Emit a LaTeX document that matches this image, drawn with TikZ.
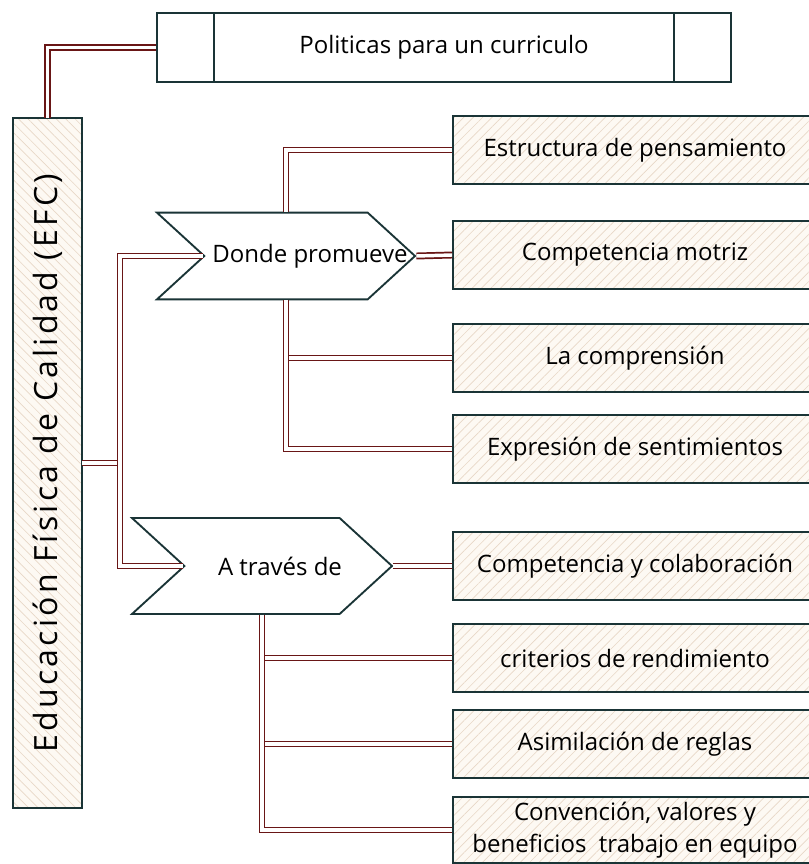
\documentclass[tikz,border=0pt]{standalone}
\usepackage{fontspec}
\setmainfont{Open Sans}
\newfontfamily\efcfont[LetterSpace=10]{Open Sans}
\usepackage{tikz}
\usetikzlibrary{positioning,calc,shapes.symbols,patterns.meta}
\definecolor{edgeink}{RGB}{26,52,54}
\definecolor{wire}{RGB}{105,22,22}
\definecolor{paper}{RGB}{253,249,243}
\definecolor{hatch}{RGB}{232,215,199}

\begin{document}
\begin{tikzpicture}[
    x=0.75pt, y=-0.75pt,
    box/.style={
      rectangle,
      draw=edgeink,
      line width=1.4pt,
      preaction={fill=paper},
      pattern={Lines[angle=45,distance=5pt,line width=0.5pt]},
      pattern color=hatch,
      minimum width=273pt,
      minimum height=51pt,
      align=center,
      font=\fontsize{18}{24}\selectfont
    },
    arrowbox/.style={
      signal,
      signal to=east,
      signal from=west,
      signal pointer angle=85,
      draw=edgeink,
      line width=1.4pt,
      fill=white,
      font=\fontsize{18}{22}\selectfont
    },
    link/.style={draw=wire, line width=1.3pt, double=white, double distance=2.6pt}
]
    \useasboundingbox (0,0) rectangle (809,864);

    % Nodes
    \node [box, pattern={Lines[angle=-45,distance=5pt,line width=0.5pt]},
           minimum width=51.75pt, minimum height=517.5pt, inner sep=0pt]
      (efc) at (47.5,463) {\rotatebox{90}{\efcfont\fontsize{24}{28}\selectfont Educación Física de Calidad (EFC)}};
    \node [rectangle, draw=edgeink, line width=1.4pt, fill=white,
           minimum width=430.5pt, minimum height=51.75pt,
           font=\fontsize{18}{22}\selectfont,
           path picture={
             \draw [edgeink, line width=1.4pt]
               ([xshift=43pt]path picture bounding box.north west) -- ([xshift=43pt]path picture bounding box.south west)
               ([xshift=-43pt]path picture bounding box.north east) -- ([xshift=-43pt]path picture bounding box.south east);
           }] (pol) at (444,47.5) {Politicas para un curriculo};

    \node [arrowbox, minimum width=193.5pt, minimum height=65pt] (donde) at (286,256)
      {\hspace*{36pt}\makebox[0pt]{Donde promueve}};
    \node [arrowbox, minimum width=195pt, minimum height=72pt] (traves) at (262,566)
      {\hspace*{27pt}\makebox[0pt]{A través de}};

    \node [box] (estr) at (635,150) {Estructura de pensamiento};
    \node [box] (motriz) at (635,255) {Competencia motriz};
    \node [box] (compr) at (635,358) {La comprensión};
    \node [box] (expr) at (635,449) {Expresión de sentimientos};
    \node [box] (colab) at (635,566) {Competencia y colaboración};
    \node [box] (crit) at (635,658) {criterios de rendimiento};
    \node [box] (asim) at (635,744) {Asimilación de reglas};
    \node [box, minimum height=49.5pt] (conv) at (635,830) {Convención, valores y\\beneficios \ trabajo en equipo};

    % Edges
    \coordinate (trunk) at (120,463);
    \draw [link] (efc.north) |- (pol.west);
    \draw [link] (efc.east) -- (trunk);
    \draw [link] (donde.west) -| (trunk) |- (traves.west);

    \draw [link] (donde.north) |- (estr.west);
    \draw [link] (donde.east) -- (motriz.west);
    \draw [link] (donde.south) |- (compr.west);
    \draw [link] (donde.south) |- (expr.west);

    \draw [link] (traves.east) -- (colab.west);
    \draw [link] (traves.south) |- (crit.west);
    \draw [link] (traves.south) |- (asim.west);
    \draw [link] (traves.south) |- (conv.west);

\end{tikzpicture}
\end{document}
